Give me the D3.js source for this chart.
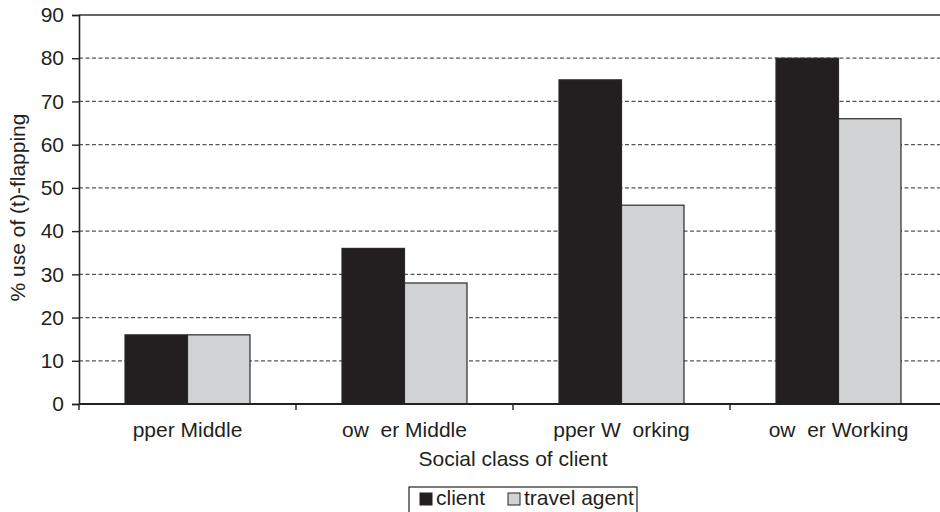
<!DOCTYPE html>
<html>
<head>
<meta charset="utf-8">
<script src="https://cdn.jsdelivr.net/npm/d3@7/dist/d3.min.js"></script>
<style>
  html, body { margin: 0; padding: 0; background: #fff; }
  svg { display: block; font-family: "Liberation Sans", Arial, Helvetica, sans-serif; }
</style>
</head>
<body>
<svg id="chart" width="940" height="512"></svg>
<script>
// Social class categories (labels as printed) and the two speaker series
const categories = ["pper Middle", "ow  er Middle", "pper W  orking", "ow  er Working"];
const seriesNames = ["client", "travel agent"];
const clientValues = [16, 36, 75, 80];
const agentValues = [16, 28, 46, 66];
const yTicks = [0, 10, 20, 30, 40, 50, 60, 70, 80, 90];
const yTitle = "% use of (t)-flapping";
const xTitle = "Social class of client";

const colors = { "client": "#231f20", "travel agent": "#d0d2d3" };
const fontSize = 21;

const svg = d3.select("#chart");
const plotLeft = 79, plotRight = 947, plotTop = 15, plotBottom = 404;

const x0 = d3.scaleBand().domain(categories).range([plotLeft, plotRight])
  .paddingInner(0.424).paddingOuter(0.212);
const x1 = d3.scaleBand().domain(seriesNames).range([0, x0.bandwidth()]);
const y = d3.scaleLinear().domain([0, 90]).range([plotBottom, plotTop]);

const rows = categories.map((c, i) => ({ cat: c, values: [
  { key: "client", value: clientValues[i] },
  { key: "travel agent", value: agentValues[i] }
]}));

// Horizontal grid: dashed interior lines, solid at the top value
svg.append("g").selectAll("line")
  .data(yTicks.filter(t => t > 0))
  .join("line")
  .attr("x1", plotLeft).attr("x2", plotRight)
  .attr("y1", d => y(d)).attr("y2", d => y(d))
  .attr("stroke", d => d === 90 ? "#333" : "#555")
  .attr("stroke-width", d => d === 90 ? 1.6 : 1.2)
  .attr("stroke-dasharray", d => d === 90 ? null : "4,2.5");

// Bars
svg.append("g").selectAll("g")
  .data(rows)
  .join("g")
  .attr("transform", d => `translate(${x0(d.cat)},0)`)
  .selectAll("rect")
  .data(d => d.values)
  .join("rect")
  .attr("x", d => x1(d.key))
  .attr("y", d => y(d.value))
  .attr("width", x1.bandwidth())
  .attr("height", d => y(0) - y(d.value))
  .attr("fill", d => colors[d.key])
  .attr("stroke", "#2a2a2a")
  .attr("stroke-width", 1.2);

// Y axis
const yAxis = svg.append("g")
  .attr("transform", `translate(${plotLeft},0)`)
  .call(d3.axisLeft(y).tickValues(yTicks).tickSize(7).tickPadding(8));
yAxis.select(".domain").attr("stroke", "#222").attr("stroke-width", 1.6);
yAxis.selectAll(".tick line").attr("stroke", "#222").attr("stroke-width", 1.4);
yAxis.selectAll(".tick text").attr("font-size", fontSize).attr("fill", "#231f20")
  .attr("font-family", "'Liberation Sans', Arial, sans-serif");

// X axis: baseline with ticks at band boundaries
const boundaries = d3.range(categories.length + 1).map(i => plotLeft + i * x0.step());
svg.append("line")
  .attr("x1", plotLeft).attr("x2", plotRight)
  .attr("y1", y(0)).attr("y2", y(0))
  .attr("stroke", "#222").attr("stroke-width", 1.8);
svg.append("g").selectAll("line")
  .data(boundaries)
  .join("line")
  .attr("x1", d => d).attr("x2", d => d)
  .attr("y1", y(0)).attr("y2", y(0) + 6)
  .attr("stroke", "#222").attr("stroke-width", 1.4);

svg.append("g").selectAll("text")
  .data(categories)
  .join("text")
  .attr("x", d => x0(d) + x0.bandwidth() / 2)
  .attr("y", 437)
  .attr("text-anchor", "middle")
  .attr("font-size", fontSize)
  .attr("fill", "#231f20")
  .style("white-space", "pre")
  .text(d => d);

// Axis titles
svg.append("text")
  .attr("x", (plotLeft + plotRight) / 2)
  .attr("y", 466)
  .attr("text-anchor", "middle")
  .attr("font-size", fontSize)
  .attr("fill", "#231f20")
  .text(xTitle);

svg.append("text")
  .attr("transform", `translate(25,${(plotTop + plotBottom) / 2 - 2}) rotate(-90)`)
  .attr("text-anchor", "middle")
  .attr("font-size", fontSize)
  .attr("fill", "#231f20")
  .text(yTitle);

// Legend
const legend = svg.append("g").attr("transform", "translate(409,487)");
legend.append("rect")
  .attr("x", 0).attr("y", 0).attr("width", 228).attr("height", 32)
  .attr("fill", "#fff").attr("stroke", "#222").attr("stroke-width", 1.2);
const legendX = [11, 99];
const items = legend.selectAll("g.item")
  .data(seriesNames)
  .join("g")
  .attr("class", "item")
  .attr("transform", (d, i) => `translate(${legendX[i]},0)`);
items.append("rect")
  .attr("x", 0).attr("y", 6).attr("width", 12).attr("height", 12)
  .attr("fill", d => colors[d])
  .attr("stroke", "#222").attr("stroke-width", 1);
items.append("text")
  .attr("x", 16).attr("y", 18)
  .attr("font-size", fontSize)
  .attr("fill", "#231f20")
  .text(d => d);
</script>
</body>
</html>
